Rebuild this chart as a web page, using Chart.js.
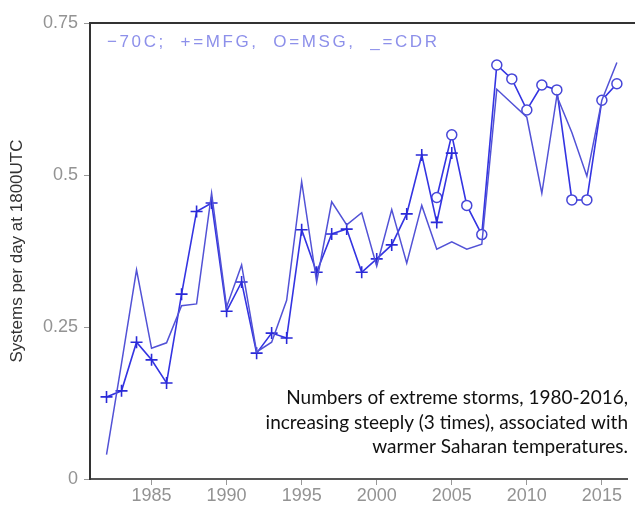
<!DOCTYPE html>
<html>
<head>
<meta charset="utf-8">
<script src="https://cdn.jsdelivr.net/npm/chart.js@4/dist/chart.umd.min.js"></script>
<style>
  html, body { margin: 0; padding: 0; background: #fff; overflow: hidden; }
  #wrap { width: 635px; height: 506px; position: relative; }
</style>
</head>
<body>
<div id="wrap"><canvas id="chart"></canvas></div>
<script>
// Values
const cdrYears = [1982,1983,1984,1985,1986,1987,1988,1989,1990,1991,1992,1993,1994,1995,1996,1997,1998,1999,
                  2000,2001,2002,2003,2004,2005,2006,2007,2008,2009,2010,2011,2012,2013,2014,2015,2016];
const cdrValues = [0.04,0.19,0.344,0.215,0.224,0.285,0.288,0.47,0.283,0.352,0.209,0.225,0.294,0.489,0.324,0.456,0.418,0.438,
                   0.35,0.443,0.355,0.45,0.378,0.39,0.378,0.386,0.641,0.618,0.595,0.47,0.63,0.57,0.498,0.623,0.685];

const mfgYears = [1982,1983,1984,1985,1986,1987,1988,1989,1990,1991,1992,1993,1994,1995,1996,1997,1998,1999,
                  2000,2001,2002,2003,2004,2005];
const mfgValues = [0.135,0.145,0.225,0.196,0.158,0.304,0.44,0.454,0.276,0.324,0.207,0.24,0.232,0.41,0.34,0.403,0.411,0.34,
                   0.362,0.385,0.436,0.533,0.422,0.536];

const msgYears = [2004,2005,2006,2007,2008,2009,2010,2011,2012,2013,2014,2015,2016];
const msgValues = [0.463,0.566,0.45,0.402,0.681,0.658,0.607,0.648,0.64,0.459,0.459,0.623,0.65];

const yTicks = [0, 0.25, 0.5, 0.75];
const legendText = '\u221270C;  +=MFG,  O=MSG,  _=CDR';
const noteLines = [
  'Numbers of extreme storms, 1980-2016,',
  'increasing steeply (3 times), associated with',
  'warmer Saharan temperatures.'
];

const toPoints = (xs, ys) => xs.map((x, i) => ({ x: x, y: ys[i] }));

// frame top line, legend text inside the plot and the note
const decorations = {
  id: 'decorations',
  afterDraw(chart) {
    const ctx = chart.ctx;
    const area = chart.chartArea;
    ctx.save();
    ctx.strokeStyle = '#333';
    ctx.lineWidth = 2;
    ctx.beginPath();
    ctx.moveTo(area.left - 1, area.top);
    ctx.lineTo(chart.width, area.top);
    ctx.stroke();

    ctx.font = '17px "Liberation Sans", Arial, sans-serif';
    ctx.fillStyle = '#8d90ea';
    ctx.textBaseline = 'middle';
    ctx.textAlign = 'left';
    const w = ctx.measureText(legendText).width;
    ctx.letterSpacing = ((330 - w) / (legendText.length - 1)) + 'px';
    ctx.fillText(legendText, area.left + 17, area.top + 19);
    ctx.letterSpacing = '0px';

    // note: size the font so the longest line spans like in the picture
    ctx.font = '16px Lato, "Open Sans", sans-serif';
    const base = ctx.measureText(noteLines[1]).width;
    const size = 16 * 362 / base;
    ctx.font = size.toFixed(1) + 'px Lato, "Open Sans", sans-serif';
    ctx.fillStyle = '#111';
    ctx.textAlign = 'right';
    noteLines.forEach((line, i) => {
      ctx.fillText(line, 628, 398 + i * 24.5);
    });
    ctx.restore();
  }
};

const tickFont = { family: '"Liberation Sans", Arial, sans-serif', size: 18 };

new Chart(document.getElementById('chart'), {
  type: 'line',
  data: {
    datasets: [
      {
        label: 'CDR',
        data: toPoints(cdrYears, cdrValues),
        borderColor: '#5252d6',
        borderWidth: 1.5,
        pointRadius: 0,
        tension: 0
      },
      {
        label: 'MFG',
        data: toPoints(mfgYears, mfgValues),
        borderColor: '#3434e2',
        borderWidth: 1.6,
        pointStyle: 'cross',
        pointRadius: 6,
        pointBorderColor: '#2a2ad8',
        pointBorderWidth: 1.6,
        tension: 0
      },
      {
        label: 'MSG',
        data: toPoints(msgYears, msgValues),
        borderColor: '#3434e2',
        borderWidth: 1.6,
        pointStyle: 'circle',
        pointRadius: 5,
        pointBackgroundColor: '#fff',
        pointBorderColor: '#4646d8',
        pointBorderWidth: 1.5,
        tension: 0
      }
    ]
  },
  options: {
    responsive: true,
    maintainAspectRatio: false,
    animation: false,
    layout: { padding: { top: 23, right: 0, bottom: 0, left: 0 } },
    plugins: {
      legend: { display: false },
      tooltip: { enabled: false }
    },
    scales: {
      x: {
        type: 'linear',
        min: 1980.9,
        max: 2016.7,
        afterFit: s => { s.height = 27; },
        border: { display: true, color: '#555', width: 2 },
        grid: { drawOnChartArea: false, drawTicks: true, tickLength: 6, color: '#999' },
        ticks: {
          stepSize: 5,
          includeBounds: false,
          maxRotation: 0,
          padding: 0,
          color: '#939393',
          font: tickFont,
          callback: v => String(v)
        }
      },
      y: {
        min: 0,
        max: 0.75,
        afterFit: s => { s.width = 90; },
        afterBuildTicks: s => { s.ticks = yTicks.map(v => ({ value: v })); },
        border: { display: true, color: '#333', width: 2 },
        grid: { drawOnChartArea: false, drawTicks: true, tickLength: 6, color: '#999' },
        ticks: {
          padding: 6,
          color: '#939393',
          font: tickFont,
          callback: v => String(v)
        },
        title: {
          display: true,
          text: 'Systems per day at 1800UTC',
          color: '#333',
          font: { family: '"Liberation Sans", Arial, sans-serif', size: 17 },
          padding: { top: 7, bottom: 0 }
        }
      }
    }
  },
  plugins: [decorations]
});
</script>
</body>
</html>
